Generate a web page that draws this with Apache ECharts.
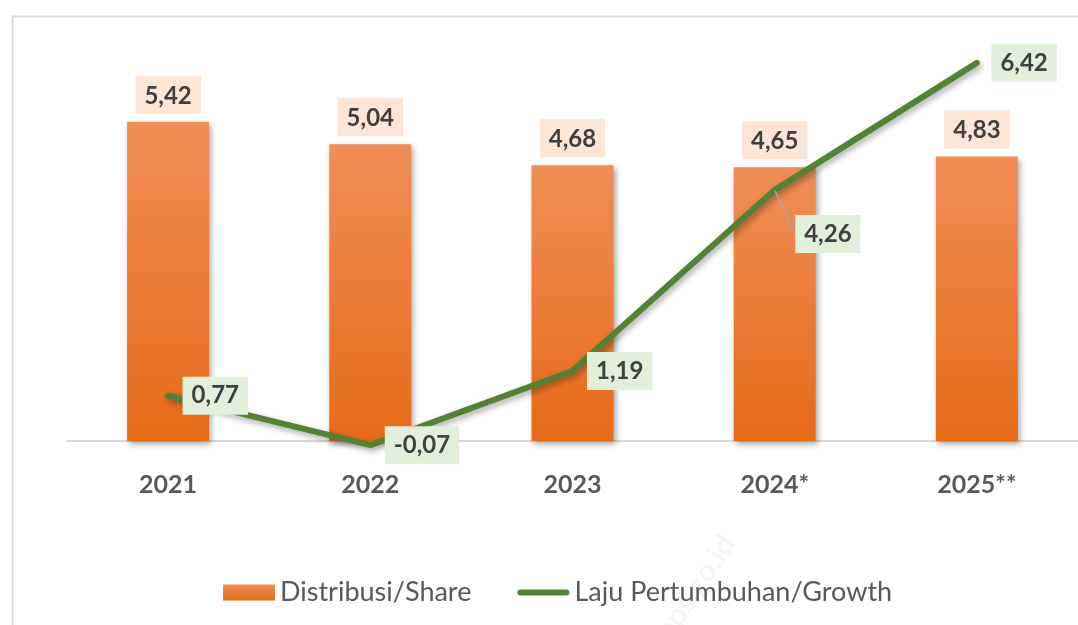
<!DOCTYPE html>
<html>
<head>
<meta charset="utf-8">
<script src="https://cdn.jsdelivr.net/npm/echarts@6/dist/echarts.min.js"></script>
<style>
  html, body { margin: 0; padding: 0; background: #fff; }
  #chart { width: 1078px; height: 625px; }
</style>
</head>
<body>
<div id="chart"></div>
<script>
var years = ['2021', '2022', '2023', '2024*', '2025**'];
var shareValues = [5.42, 5.04, 4.68, 4.65, 4.83];
var growthValues = [0.77, -0.07, 1.19, 4.26, 6.42];

var chart = echarts.init(document.getElementById('chart'));

function fmt(p) {
  return String(p.value).replace('.', ',');
}

// only the 2024 growth label is pulled off the line, with a leader
var growthData = growthValues.map(function (v, i) {
  if (i === 3) {
    return { value: v, labelLine: { show: true } };
  }
  return { value: v, labelLine: { show: false } };
});

var option = {
  animation: false,
  textStyle: { fontFamily: 'Lato, "Open Sans", sans-serif' },
  graphic: [
    {
      type: 'rect',
      left: 10, top: 14,
      shape: { width: 1200, height: 700 },
      style: { fill: 'none', stroke: '#D9D9D9', lineWidth: 2 },
      silent: true
    },
    {
      type: 'text',
      left: 650, top: 530,
      rotation: Math.PI / 3.2,
      style: { text: 'bps.go.id', fill: 'rgba(0,0,0,0.04)', font: 'bold 30px Lato' },
      silent: true
    }
  ],
  grid: { left: 67, right: 0, top: 28.7, bottom: 154.5 },
  legend: {
    bottom: 14,
    left: 218,
    itemWidth: 52,
    itemHeight: 16,
    itemGap: 46,
    textStyle: { fontSize: 27, color: '#595959', fontFamily: 'Lato, sans-serif' },
    data: [
      { name: 'Distribusi/Share', icon: 'rect' },
      { name: 'Laju Pertumbuhan/Growth', icon: 'path://M3,0 H49 A3,3 0 0 1 49,6 H3 A3,3 0 0 1 3,0 Z' }
    ]
  },
  xAxis: {
    type: 'category',
    data: years,
    axisLine: { onZero: true, lineStyle: { color: '#D9D9D9', width: 2 } },
    axisTick: { show: false },
    axisLabel: { margin: 2, fontSize: 25, fontWeight: 'bold', color: '#595959' }
  },
  yAxis: {
    type: 'value',
    min: -0.5,
    max: 7,
    show: false,
    splitLine: { show: false }
  },
  series: [
    {
      name: 'Distribusi/Share',
      type: 'bar',
      barWidth: 82,
      data: shareValues,
      itemStyle: {
        color: new echarts.graphic.LinearGradient(0, 0, 0, 1, [
          { offset: 0, color: '#F08E56' },
          { offset: 1, color: '#E66B18' }
        ]),
        shadowColor: 'rgba(0,0,0,0.35)',
        shadowBlur: 6,
        shadowOffsetX: 2,
        shadowOffsetY: 3
      },
      label: {
        show: true,
        position: 'top',
        distance: 8,
        formatter: fmt,
        fontSize: 24,
        fontWeight: 'bold',
        color: '#404040',
        backgroundColor: '#FBE5D6',
        padding: [8, 9, 6, 9]
      }
    },
    {
      name: 'Laju Pertumbuhan/Growth',
      type: 'line',
      data: growthData,
      symbol: 'circle',
      symbolSize: 1,
      showSymbol: true,
      lineStyle: {
        color: '#548235',
        width: 6,
        cap: 'round',
        shadowColor: 'rgba(0,0,0,0.35)',
        shadowBlur: 6,
        shadowOffsetX: 2,
        shadowOffsetY: 3
      },
      itemStyle: { color: '#548235' },
      label: {
        show: true,
        position: 'right',
        distance: 14,
        formatter: fmt,
        fontSize: 24,
        fontWeight: 'bold',
        color: '#404040',
        backgroundColor: '#E2EFDA',
        padding: [8, 9, 6, 9]
      },
      labelLine: {
        show: false,
        lineStyle: { color: '#A6A6A6', width: 1.5 }
      },
      labelLayout: function (p) {
        if (p.dataIndex === 3) {
          return { dx: 6, dy: 44 };
        }
        return {};
      }
    }
  ]
};

chart.setOption(option);
</script>
</body>
</html>
